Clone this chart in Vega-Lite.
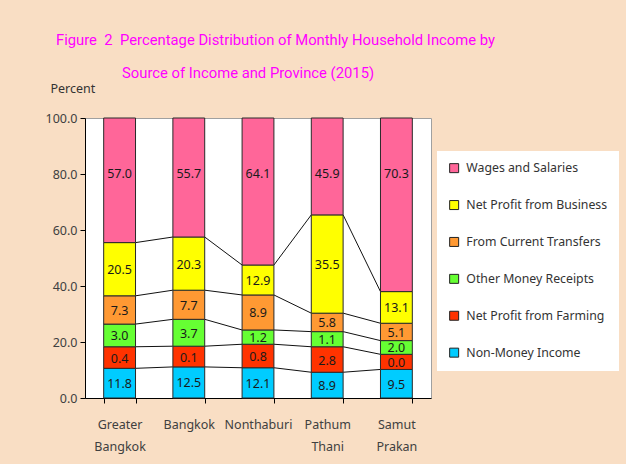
{
  "$schema": "https://vega.github.io/schema/vega-lite/v6.json",
  "width": 346,
  "height": 280,
  "autosize": {"type": "none"},
  "padding": {"left": 85, "top": 118, "right": 195, "bottom": 66},
  "background": "#f9dec4",
  "title": {
    "text": ["Figure\u00a0 2\u00a0 Percentage Distribution of Monthly Household Income by", "\u2800\u2800\u2800\u2800\u2800\u2800Source of Income and Province (2015)"],
    "anchor": "start",
    "align": "left",
    "frame": "group",
    "dx": -29,
    "font": "Roboto",
    "fontSize": 14.8,
    "fontWeight": "normal",
    "color": "#ff00ff",
    "lineHeight": 33,
    "offset": 1
  },
  "config": {
    "view": {"fill": "white", "stroke": "#a0a0a0", "strokeWidth": 1},
    "axis": {"labelFont": "Noto Sans", "titleFont": "Noto Sans"},
    "legend": {"labelFont": "Noto Sans"}
  },
  "data": {
    "values": [
      {"province": "Greater Bangkok", "category": "Non-Money Income", "value": 10.6, "label": "11.8"},
      {"province": "Greater Bangkok", "category": "Net Profit from Farming", "value": 7.7, "label": "0.4"},
      {"province": "Greater Bangkok", "category": "Other Money Receipts", "value": 8.1, "label": "3.0"},
      {"province": "Greater Bangkok", "category": "From Current Transfers", "value": 10.1, "label": "7.3"},
      {"province": "Greater Bangkok", "category": "Net Profit from Business", "value": 19.0, "label": "20.5"},
      {"province": "Greater Bangkok", "category": "Wages and Salaries", "value": 44.5, "label": "57.0"},
      {"province": "Bangkok", "category": "Non-Money Income", "value": 11.1, "label": "12.5"},
      {"province": "Bangkok", "category": "Net Profit from Farming", "value": 7.4, "label": "0.1"},
      {"province": "Bangkok", "category": "Other Money Receipts", "value": 9.6, "label": "3.7"},
      {"province": "Bangkok", "category": "From Current Transfers", "value": 10.4, "label": "7.7"},
      {"province": "Bangkok", "category": "Net Profit from Business", "value": 19.0, "label": "20.3"},
      {"province": "Bangkok", "category": "Wages and Salaries", "value": 42.5, "label": "55.7"},
      {"province": "Nonthaburi", "category": "Non-Money Income", "value": 10.8, "label": "12.1"},
      {"province": "Nonthaburi", "category": "Net Profit from Farming", "value": 8.4, "label": "0.8"},
      {"province": "Nonthaburi", "category": "Other Money Receipts", "value": 5.1, "label": "1.2"},
      {"province": "Nonthaburi", "category": "From Current Transfers", "value": 12.5, "label": "8.9"},
      {"province": "Nonthaburi", "category": "Net Profit from Business", "value": 10.7, "label": "12.9"},
      {"province": "Nonthaburi", "category": "Wages and Salaries", "value": 52.5, "label": "64.1"},
      {"province": "Pathum Thani", "category": "Non-Money Income", "value": 9.2, "label": "8.9"},
      {"province": "Pathum Thani", "category": "Net Profit from Farming", "value": 9.1, "label": "2.8"},
      {"province": "Pathum Thani", "category": "Other Money Receipts", "value": 5.4, "label": "1.1"},
      {"province": "Pathum Thani", "category": "From Current Transfers", "value": 6.6, "label": "5.8"},
      {"province": "Pathum Thani", "category": "Net Profit from Business", "value": 35.1, "label": "35.5"},
      {"province": "Pathum Thani", "category": "Wages and Salaries", "value": 34.6, "label": "45.9"},
      {"province": "Samut Prakan", "category": "Non-Money Income", "value": 10.2, "label": "9.5"},
      {"province": "Samut Prakan", "category": "Net Profit from Farming", "value": 5.4, "label": "0.0"},
      {"province": "Samut Prakan", "category": "Other Money Receipts", "value": 4.9, "label": "2.0"},
      {"province": "Samut Prakan", "category": "From Current Transfers", "value": 6.2, "label": "5.1"},
      {"province": "Samut Prakan", "category": "Net Profit from Business", "value": 11.3, "label": "13.1"},
      {"province": "Samut Prakan", "category": "Wages and Salaries", "value": 62.0, "label": "70.3"}
    ]
  },
  "transform": [
    {"stack": "value", "groupby": ["province"], "as": ["y0", "y1"]},
    {"window": [{"op": "lead", "field": "y1", "as": "next_y1"}, {"op": "lead", "field": "province", "as": "next_province"}], "groupby": ["category"]}
  ],
  "encoding": {
    "x": {
      "field": "province",
      "type": "nominal",
      "scale": {"domain": ["Greater Bangkok", "Bangkok", "Nonthaburi", "Pathum Thani", "Samut Prakan"], "paddingInner": 0.54, "paddingOuter": 0.27},
      "axis": {
        "title": null,
        "labelAngle": 0,
        "labelExpr": "split(datum.label, ' ')",
        "labelFontSize": 12.5,
        "labelColor": "#404040",
        "labelLineHeight": 22,
        "labelPadding": 15,
        "tickBand": "extent",
        "tickColor": "#000",
        "domainColor": "#000",
        "tickSize": 5
      }
    }
  },
  "layer": [
    {
      "transform": [{"filter": "datum.next_province != null && datum.category != 'Wages and Salaries'"}],
      "mark": {"type": "rule", "color": "#111", "strokeWidth": 1},
      "encoding": {
        "x": {"field": "province", "type": "nominal", "bandPosition": 1},
        "x2": {"field": "next_province", "bandPosition": 0},
        "y": {"field": "y1", "type": "quantitative", "title": "Percent"},
        "y2": {"field": "next_y1"}
      }
    },
    {
      "mark": {"type": "bar", "stroke": "#2a2a2a", "strokeWidth": 1},
      "encoding": {
        "y": {
          "field": "y0",
          "type": "quantitative",
          "title": "Percent",
          "scale": {"domain": [0, 100]},
          "axis": {
            "values": [0, 20, 40, 60, 80, 100],
            "format": ".1f",
            "grid": false,
            "labelFontSize": 12.5,
            "labelColor": "#404040",
            "labelPadding": 3,
            "tickColor": "#000",
            "domainColor": "#000",
            "tickSize": 5,
            "titleAngle": 0,
            "titleAlign": "left",
            "titleBaseline": "middle",
            "titleX": -35,
            "titleY": -30,
            "titleFontSize": 12.5,
            "titleFontWeight": "normal",
            "titleColor": "#333"
          }
        },
        "y2": {"field": "y1"},
        "color": {
          "field": "category",
          "type": "nominal",
          "scale": {
            "domain": ["Wages and Salaries", "Net Profit from Business", "From Current Transfers", "Other Money Receipts", "Net Profit from Farming", "Non-Money Income"],
            "range": ["#ff6699", "#ffff00", "#ff9933", "#66ff33", "#ff3300", "#00ccff"]
          },
          "legend": {
            "title": null,
            "orient": "none",
            "legendX": 352,
            "legendY": 33,
            "fillColor": "white",
            "padding": 11,
            "rowPadding": 22.9,
            "symbolType": "square",
            "symbolSize": 81,
            "symbolStrokeColor": "#222",
            "symbolStrokeWidth": 1,
            "labelFontSize": 12.3,
            "labelColor": "#333",
            "labelOffset": 6
          }
        }
      }
    },
    {
      "transform": [{"filter": "datum.category != 'Wages and Salaries'"}],
      "mark": {"type": "text", "font": "Noto Sans", "fontSize": 12.5, "color": "#1a1a1a", "baseline": "middle", "dy": 1},
      "encoding": {
        "y": {"field": "value", "type": "quantitative", "stack": "zero", "bandPosition": 0.5, "title": "Percent"},
        "order": {"field": "y0", "type": "quantitative"},
        "text": {"field": "label"}
      }
    },
    {
      "transform": [{"filter": "datum.category == 'Wages and Salaries'"}],
      "mark": {"type": "text", "font": "Noto Sans", "fontSize": 12.5, "color": "#1a1a1a", "baseline": "middle"},
      "encoding": {
        "y": {"datum": 80, "type": "quantitative"},
        "text": {"field": "label"}
      }
    }
  ]
}
